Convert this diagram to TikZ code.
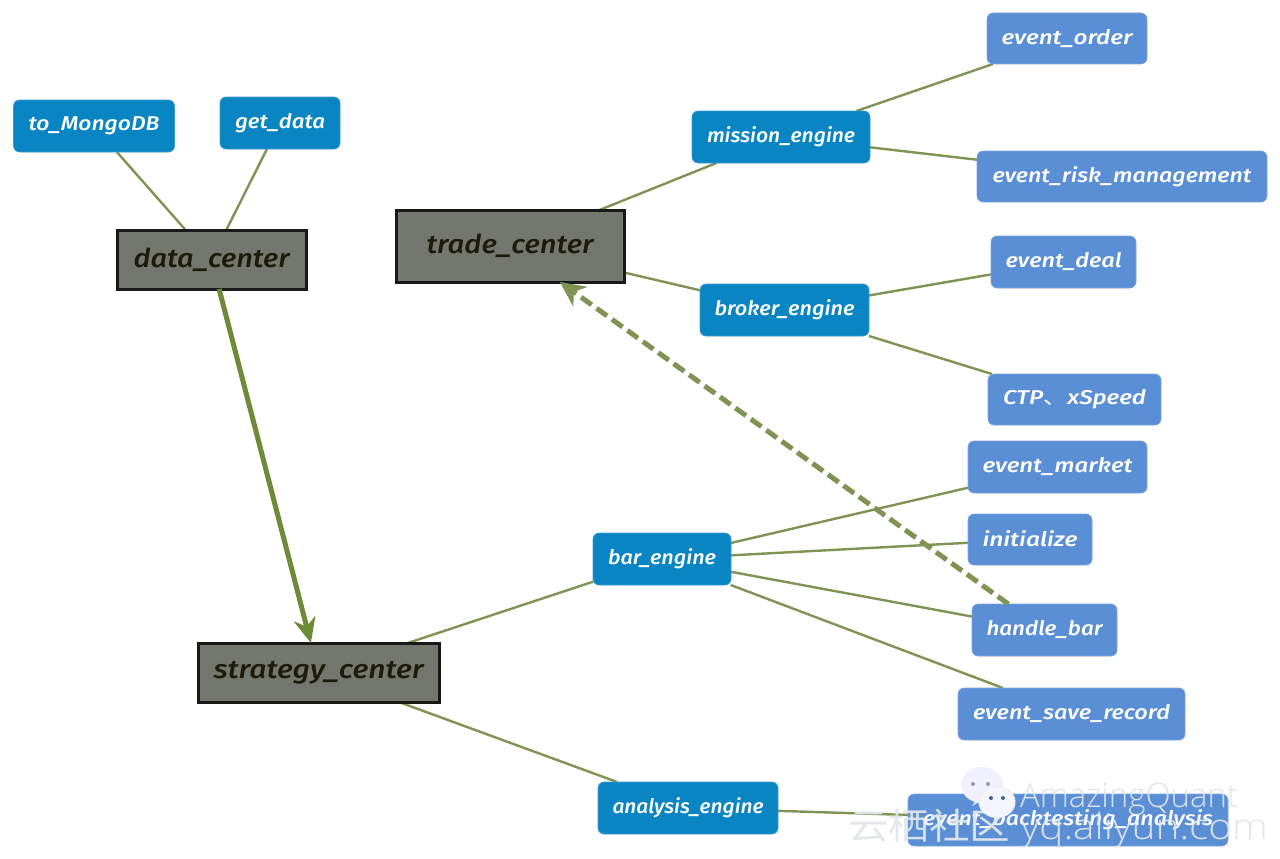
\documentclass[tikz,border=0pt]{standalone}
\usepackage{fontspec}
\usepackage{graphicx}
\setmainfont{Fira Sans}
\newfontfamily\hand{Fira Sans Medium}
\newfontfamily\cjk{Noto Sans CJK SC}
\newfontfamily\wm{Open Sans Light}
\usetikzlibrary{arrows.meta}
\definecolor{dkblue}{HTML}{0985C3}
\definecolor{ltblue}{HTML}{5A8FD6}
\definecolor{boxgray}{HTML}{74776E}
\definecolor{edgegreen}{HTML}{7F9453}
\definecolor{tipgreen}{HTML}{7A9A3E}
\definecolor{darktext}{HTML}{1E1A0C}
\definecolor{wmgray}{HTML}{E2E6EA}
\newsavebox{\fitbox}
\newcommand{\fitw}[2]{\sbox{\fitbox}{#2}\pgfmathsetmacro{\fitx}{#1/\wd\fitbox}\raisebox{1.5pt}{\scalebox{\fitx}[1]{\usebox{\fitbox}}}}
\tikzset{
  x=1pt,y=-1pt,
  base/.style={anchor=center,inner sep=0pt,outer sep=0pt},
  dkbox/.style={base,fill=dkblue,draw=dkblue!80!white,line width=.6pt,rounded corners=6pt,text=white,font=\hand\itshape\fontsize{20}{20}\selectfont},
  ltbox/.style={base,fill=ltblue,draw=ltblue!80!white,line width=.6pt,rounded corners=6pt,text=white,font=\hand\itshape\fontsize{20}{20}\selectfont},
  center box/.style={base,fill=boxgray,draw=black!90,line width=3pt,text=darktext,font=\hand\itshape\fontsize{26}{26}\selectfont},
  link/.style={draw=edgegreen,line width=2.4pt},
  flow/.style={draw=tipgreen!90!black,line width=5pt,-{Stealth[length=25pt,width=22pt,inset=8pt,fill=tipgreen]}},
  dflow/.style={draw=edgegreen,line width=5pt,dash pattern=on 13pt off 6pt,-{Stealth[length=25pt,width=24pt,inset=8pt,fill=tipgreen]}},
  wmtext/.style={base,text=wmgray,opacity=.95},
}
\newcommand{\bx}[8]{\node[#1,minimum width=#4pt,minimum height=#5pt] (#2) at (#6,#7) {\fitw{#8}{#3}};}
\begin{document}
\begin{tikzpicture}
\useasboundingbox (0,0) rectangle (1280,859);
\pgfdeclarelayer{edges}\pgfdeclarelayer{wmk}
\pgfsetlayers{edges,main,wmk}
\begin{pgfonlayer}{edges}
\fill[white] (0,0) rectangle (1280,859);
\end{pgfonlayer}
\bx{center box}{data}{data\_center}{189}{59}{211.5}{259.5}{156}
\bx{center box}{trade}{trade\_center}{228}{72}{510}{246}{167}
\bx{center box}{strategy}{strategy\_center}{241}{59}{318.5}{672.5}{210}
\bx{dkbox}{mongo}{to\_MongoDB}{161}{52}{94}{126}{131}
\bx{dkbox}{getd}{get\_data}{120}{52}{280}{123}{90}
\bx{dkbox}{mission}{mission\_engine}{178}{52}{781}{137}{148}
\bx{dkbox}{broker}{broker\_engine}{169}{52}{784.5}{310}{140}
\bx{dkbox}{bar}{bar\_engine}{138}{52}{662}{559}{108}
\bx{dkbox}{analysis}{analysis\_engine}{180}{52}{688}{808}{151}
\bx{ltbox}{order}{event\_order}{160}{51}{1067}{38.5}{131}
\bx{ltbox}{risk}{event\_risk\_management}{290}{51}{1122}{176.5}{259}
\bx{ltbox}{deal}{event\_deal}{145}{52}{1063.5}{262}{116}
\bx{ltbox}{ctp}{CTP{\cjk\upshape 、}xSpeed}{173}{51}{1074.5}{399.5}{143}
\bx{ltbox}{market}{event\_market}{179}{52}{1057.5}{467}{150}
\bx{ltbox}{init}{initialize}{124}{51}{1030}{539.5}{95}
\bx{ltbox}{handle}{handle\_bar}{145}{52}{1044.5}{630}{116}
\bx{ltbox}{save}{event\_save\_record}{227}{52}{1071.5}{714}{197}
\bx{ltbox}{backtest}{event\_backtesting\_analysis}{320}{52}{1068}{820}{290}
\begin{pgfonlayer}{edges}
\foreach \a/\b in {mongo/data,getd/data,mission/trade,broker/trade,mission/order,mission/risk,broker/deal,broker/ctp,bar/strategy,analysis/strategy,bar/market,bar/init,bar/handle,bar/save,analysis/backtest}
  \draw[link] (\a) -- (\b);
\end{pgfonlayer}
\draw[flow] (data) -- (strategy);
\draw[dflow] (handle) -- (trade);
\begin{pgfonlayer}{wmk}
\node[wmtext,font=\wm\fontsize{34}{34}\selectfont] (wmname) at (1129,799) {\fitw{218}{AmazingQuant}};
\node[wmtext,font=\wm\fontsize{36}{36}\selectfont] (wmsite) at (1058,829) {\fitw{420}{{\cjk 云栖社区} yq.aliyun.com}};
\fill[white!94!blue] (980,795) -- (972,806) -- (982,800) -- cycle;
\fill[white!94!blue] (982,785) ellipse[x radius=21pt,y radius=18pt];
\fill[black!6] (997,802) ellipse[x radius=18.5pt,y radius=16pt];
\fill[white!96!blue] (997,802) ellipse[x radius=17pt,y radius=15pt];
\fill[black!40] (973,784) circle[radius=2pt] (988,784) circle[radius=2pt];
\fill[ltblue!70!black] (991,798) circle[radius=2pt] (1003,798) circle[radius=2pt];
\end{pgfonlayer}
\end{tikzpicture}
\end{document}
